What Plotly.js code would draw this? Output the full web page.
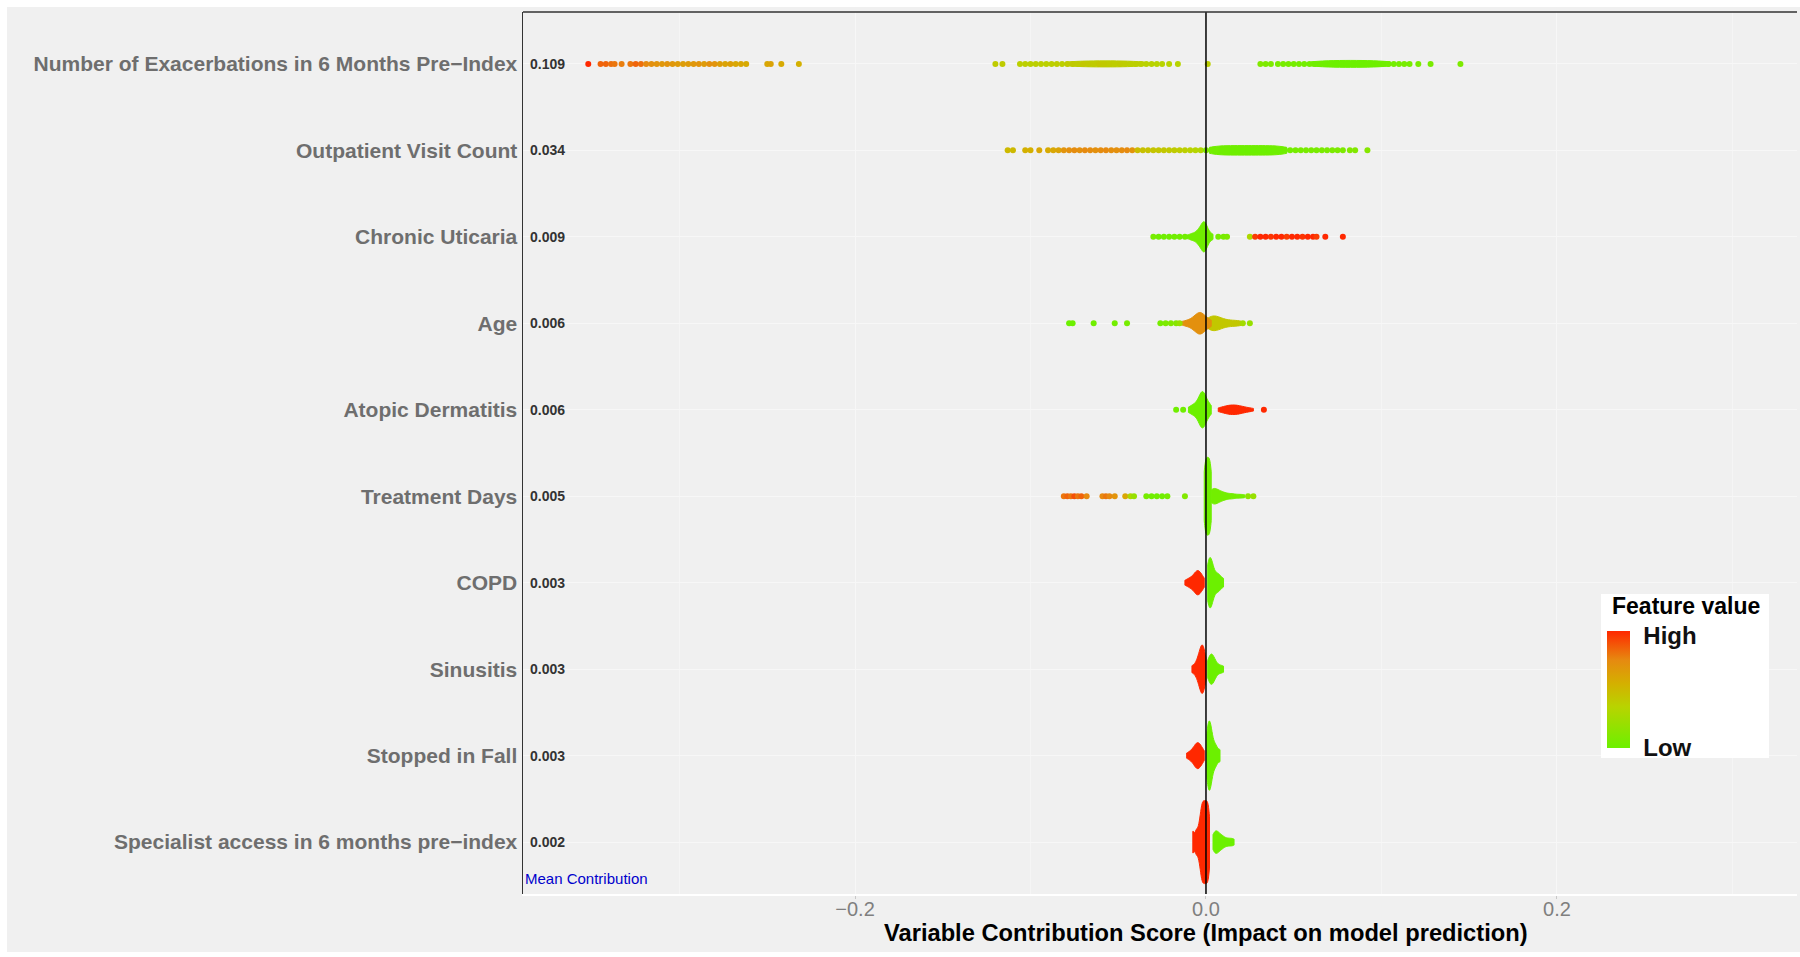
<!DOCTYPE html>
<html>
<head>
<meta charset="utf-8">
<script src="https://cdn.plot.ly/plotly-3.0.1.min.js"></script>
<style>
  body { margin: 0; background: #ffffff; }
  #shapPlot { position: absolute; left: 7px; top: 7px; width: 1793px; height: 945px; }
</style>
</head>
<body>
<div id="shapPlot"></div>
<script>
// Features, top to bottom, and their mean contribution
const features = [
  "Number of Exacerbations in 6 Months Pre\u2212Index",
  "Outpatient Visit Count",
  "Chronic Uticaria",
  "Age",
  "Atopic Dermatitis",
  "Treatment Days",
  "COPD",
  "Sinusitis",
  "Stopped in Fall",
  "Specialist access in 6 months pre\u2212index"
];
const meanContribution = [0.109, 0.034, 0.009, 0.006, 0.006, 0.005, 0.003, 0.003, 0.003, 0.002];

// Single points: [contribution, feature value (0 low .. 1 high)]
const exacDots = [
  [-0.352, 1.0],
  [-0.345, 0.85], [-0.342, 0.85], [-0.339, 0.82], [-0.337, 0.8], [-0.333, 0.78],
  [-0.328, 0.8], [-0.325, 0.85], [-0.322, 0.82], [-0.319, 0.75], [-0.316, 0.72], [-0.313, 0.7],
  [-0.310, 0.68], [-0.307, 0.7], [-0.304, 0.68], [-0.301, 0.66], [-0.298, 0.65], [-0.295, 0.66],
  [-0.292, 0.68], [-0.289, 0.7], [-0.286, 0.66], [-0.283, 0.72], [-0.280, 0.7], [-0.277, 0.65],
  [-0.274, 0.62], [-0.271, 0.64], [-0.268, 0.6], [-0.265, 0.6], [-0.262, 0.58],
  [-0.250, 0.6], [-0.248, 0.62], [-0.242, 0.58], [-0.232, 0.55],
  [-0.120, 0.4], [-0.116, 0.4],
  [-0.106, 0.37], [-0.103, 0.38], [-0.100, 0.37], [-0.097, 0.38], [-0.094, 0.38], [-0.091, 0.37],
  [-0.088, 0.38], [-0.085, 0.39], [-0.082, 0.38], [-0.079, 0.4], [-0.076, 0.41], [-0.073, 0.4],
  [-0.070, 0.42], [-0.067, 0.41], [-0.064, 0.4], [-0.061, 0.42], [-0.058, 0.41], [-0.055, 0.4],
  [-0.052, 0.39], [-0.049, 0.4], [-0.046, 0.39], [-0.043, 0.38], [-0.040, 0.38], [-0.037, 0.37],
  [-0.034, 0.36], [-0.031, 0.36], [-0.028, 0.35], [-0.025, 0.35],
  [-0.021, 0.35], [-0.016, 0.35], [0.001, 0.38],
  [0.031, 0.1], [0.034, 0.08], [0.037, 0.08],
  [0.041, 0.06], [0.044, 0.05], [0.047, 0.05], [0.050, 0.04], [0.053, 0.04], [0.056, 0.03],
  [0.059, 0.03], [0.062, 0.02], [0.065, 0.02], [0.068, 0.01], [0.071, 0.01], [0.074, 0.0],
  [0.077, 0.0], [0.080, 0.0], [0.083, 0.0], [0.086, 0.0], [0.089, 0.0], [0.092, 0.01],
  [0.095, 0.01], [0.098, 0.02], [0.101, 0.02], [0.104, 0.03], [0.107, 0.03], [0.110, 0.04],
  [0.113, 0.05], [0.116, 0.05],
  [0.121, 0.06], [0.128, 0.06], [0.145, 0.08]
];
const outpatientDots = [
  [-0.113, 0.5], [-0.110, 0.5], [-0.103, 0.55], [-0.100, 0.55], [-0.095, 0.6],
  [-0.090, 0.58], [-0.087, 0.6], [-0.084, 0.62], [-0.081, 0.7], [-0.078, 0.72], [-0.075, 0.74],
  [-0.072, 0.72], [-0.069, 0.75], [-0.066, 0.74], [-0.063, 0.72], [-0.060, 0.74], [-0.057, 0.75],
  [-0.054, 0.73], [-0.051, 0.72], [-0.048, 0.74], [-0.045, 0.75], [-0.042, 0.7],
  [-0.039, 0.48], [-0.036, 0.46], [-0.033, 0.45], [-0.030, 0.44], [-0.027, 0.43], [-0.024, 0.42],
  [-0.021, 0.41], [-0.018, 0.4], [-0.015, 0.39], [-0.012, 0.38], [-0.009, 0.36], [-0.006, 0.34],
  [-0.003, 0.32],
  [0.000, 0.1], [0.003, 0.04], [0.006, 0.03], [0.009, 0.02], [0.012, 0.02], [0.015, 0.01],
  [0.018, 0.01], [0.021, 0.0], [0.024, 0.0], [0.027, 0.0], [0.030, 0.0], [0.033, 0.0],
  [0.036, 0.0], [0.039, 0.01], [0.042, 0.01], [0.045, 0.02], [0.048, 0.03],
  [0.051, 0.05], [0.054, 0.05], [0.057, 0.06], [0.060, 0.06], [0.063, 0.06], [0.066, 0.07],
  [0.069, 0.07], [0.072, 0.08], [0.075, 0.08], [0.078, 0.08],
  [0.082, 0.1], [0.085, 0.1], [0.092, 0.12]
];
const uticariaDots = [
  [-0.030, 0.05], [-0.027, 0.02], [-0.024, 0.02], [-0.021, 0.02], [-0.018, 0.02], [-0.015, 0.02],
  [-0.012, 0.02],
  [0.007, 0.05], [0.010, 0.05], [0.012, 0.08],
  [0.025, 0.3], [0.028, 0.95], [0.031, 1.0], [0.034, 1.0], [0.037, 0.97], [0.040, 1.0],
  [0.043, 1.0], [0.046, 0.95], [0.049, 1.0], [0.052, 1.0], [0.055, 0.97], [0.058, 1.0],
  [0.061, 1.0], [0.063, 0.95], [0.068, 1.0], [0.078, 1.0]
];
const ageDots = [
  [-0.078, 0.0], [-0.076, 0.0], [-0.064, 0.02], [-0.052, 0.03], [-0.045, 0.05], [-0.026, 0.05],
  [-0.023, 0.08], [-0.020, 0.1], [-0.017, 0.12], [-0.015, 0.2], [0.021, 0.25], [0.025, 0.2]
];
const dermatitisDots = [
  [-0.017, 0.02], [-0.013, 0.02], [0.033, 1.0]
];
const treatmentDots = [
  [-0.081, 0.8], [-0.079, 0.85], [-0.077, 0.8], [-0.075, 0.9], [-0.073, 0.8], [-0.071, 0.85],
  [-0.068, 0.75], [-0.059, 0.75], [-0.057, 0.8], [-0.055, 0.75], [-0.052, 0.7], [-0.046, 0.6],
  [-0.043, 0.3], [-0.041, 0.2], [-0.034, 0.05], [-0.031, 0.02], [-0.028, 0.02], [-0.025, 0.02],
  [-0.022, 0.05], [-0.012, 0.1], [0.024, 0.15], [0.027, 0.2]
];

// Dense clusters (drawn as violins): contribution samples
const exacLowCore = [0.060, 0.065, 0.070, 0.075, 0.080, 0.085, 0.090, 0.095, 0.100, 0.105];
const exacMidCore = [-0.080, -0.075, -0.070, -0.065, -0.060, -0.055, -0.050, -0.045, -0.040, -0.035];
const outpatientLowCore = [0.002, 0.006, 0.010, 0.014, 0.018, 0.022, 0.026, 0.030, 0.034, 0.038, 0.042, 0.046];
const uticariaLow = [-0.011, -0.009, -0.008, -0.007, -0.006, -0.005, -0.005, -0.004, -0.004, -0.003,
  -0.003, -0.003, -0.002, -0.002, -0.002, -0.002, -0.001, -0.001, -0.001, -0.001, -0.001,
  0.000, 0.000, 0.000, 0.000, 0.001, 0.001, 0.002, 0.003, 0.004];
const ageMid = [0.001, 0.002, 0.003, 0.004, 0.005, 0.006, 0.007, 0.009, 0.011, 0.014, 0.017, 0.020];
const ageHigh = [-0.014, -0.012, -0.010, -0.009, -0.008, -0.007, -0.006, -0.006, -0.005, -0.005,
  -0.004, -0.004, -0.004, -0.003, -0.003, -0.003, -0.002, -0.002, -0.001, -0.001, 0.000, 0.001,
  0.002, 0.003];
const dermatitisLow = [-0.010, -0.008, -0.007, -0.006, -0.005, -0.004, -0.004, -0.003, -0.003, -0.003,
  -0.002, -0.002, -0.002, -0.002, -0.001, -0.001, -0.001, 0.000, 0.000, 0.001, 0.002, 0.003];
const dermatitisHigh = [0.007, 0.009, 0.011, 0.012, 0.013, 0.014, 0.015, 0.016, 0.017, 0.018, 0.019,
  0.020, 0.022, 0.024, 0.027];
const treatmentZero = [-0.001, -0.0005, 0.0, 0.0005, 0.001, 0.0015, 0.002, 0.0025, 0.003];
const treatmentLow = [0.003, 0.003, 0.004, 0.004, 0.005, 0.005, 0.006, 0.007, 0.008, 0.009, 0.010,
  0.012, 0.014, 0.016, 0.019, 0.022];
const copdHigh = [-0.012, -0.010, -0.009, -0.008, -0.007, -0.006, -0.006, -0.005, -0.005, -0.005,
  -0.004, -0.004, -0.003, -0.003, -0.002, -0.001];
const copdLow = [0.001, 0.001, 0.0015, 0.002, 0.002, 0.0025, 0.003, 0.003, 0.0035, 0.004, 0.005,
  0.006, 0.007, 0.008, 0.010];
const sinusitisHigh = [-0.008, -0.006, -0.005, -0.004, -0.004, -0.003, -0.003, -0.003, -0.002, -0.002,
  -0.002, -0.002, -0.001, -0.001, -0.001, 0.000];
const sinusitisLow = [0.001, 0.002, 0.002, 0.003, 0.003, 0.003, 0.004, 0.004, 0.005, 0.006, 0.008, 0.010];
const fallHigh = [-0.011, -0.009, -0.008, -0.007, -0.006, -0.006, -0.005, -0.005, -0.005, -0.004,
  -0.004, -0.003, -0.003, -0.002, -0.001];
const fallLow = [0.0005, 0.001, 0.001, 0.0015, 0.002, 0.002, 0.0025, 0.003, 0.003, 0.004, 0.005,
  0.006, 0.008];
const specialistHigh = [-0.0075, -0.0055, -0.004, -0.003, -0.0025, -0.002, -0.0015, -0.001, -0.0005,
  0.0, 0.0005, 0.001, 0.0015, 0.002];
const specialistLow = [0.004, 0.005, 0.005, 0.006, 0.006, 0.007, 0.008, 0.009, 0.010, 0.012, 0.014, 0.016];

// Colour scale low (green) -> high (red)
const featureScale = [[0, '#6cf000'], [0.35, '#b8d400'], [0.55, '#d4b000'], [0.75, '#e68a10'], [1, '#ff2800']];

function hexRgb(h) {
  return [1, 3, 5].map(i => parseInt(h.substr(i, 2), 16));
}

function colorAt(v) {
  for (let i = 1; i < featureScale.length; i++) {
    if (v <= featureScale[i][0]) {
      let a = featureScale[i - 1], b = featureScale[i];
      let t = (v - a[0]) / (b[0] - a[0]);
      let ca = hexRgb(a[1]), cb = hexRgb(b[1]);
      return 'rgb(' + ca.map((c, k) => Math.round(c + (cb[k] - c) * t)).join(',') + ')';
    }
  }
  return featureScale[featureScale.length - 1][1];
}

function rowOf(i) {
  return features.length - i;
}

function blob(featureIdx, samples, v, width, bw) {
  let col = colorAt(v);
  return {
    type: 'violin',
    orientation: 'h',
    x: samples,
    y0: rowOf(featureIdx),
    width: width,
    bandwidth: bw,
    spanmode: 'hard',
    side: 'both',
    points: false,
    box: { visible: false },
    meanline: { visible: false },
    fillcolor: col,
    line: { color: col, width: 1 },
    opacity: 1,
    hoverinfo: 'skip',
    showlegend: false
  };
}

var traces = [
  blob(0, exacLowCore, 0.0, 0.08, 0.01),
  blob(0, exacMidCore, 0.38, 0.07, 0.01),
  blob(1, outpatientLowCore, 0.02, 0.11, 0.006),
  blob(2, uticariaLow, 0.02, 0.35, 0.0012),
  blob(3, ageMid, 0.42, 0.17, 0.003),
  blob(3, ageHigh, 0.72, 0.25, 0.002),
  blob(4, dermatitisLow, 0.0, 0.42, 0.0015),
  blob(4, dermatitisHigh, 1.0, 0.11, 0.003),
  blob(5, treatmentZero, 0.02, 0.9, 0.0008),
  blob(5, treatmentLow, 0.03, 0.18, 0.002),
  blob(6, copdHigh, 1.0, 0.28, 0.0015),
  blob(6, copdLow, 0.0, 0.58, 0.0012),
  blob(7, sinusitisHigh, 1.0, 0.56, 0.0012),
  blob(7, sinusitisLow, 0.0, 0.35, 0.0015),
  blob(8, fallHigh, 1.0, 0.3, 0.0015),
  blob(8, fallLow, 0.0, 0.8, 0.001),
  blob(9, specialistHigh, 1.0, 0.96, 0.0008),
  blob(9, specialistLow, 0.0, 0.26, 0.0015)
];

// All single points in one scatter trace, coloured by feature value
var dotSets = [[0, exacDots], [1, outpatientDots], [2, uticariaDots], [3, ageDots],
  [4, dermatitisDots], [5, treatmentDots]];
var dx = [], dy = [], dc = [];
dotSets.forEach(function(set) {
  set[1].forEach(function(p) {
    dx.push(p[0]);
    dy.push(rowOf(set[0]));
    dc.push(p[1]);
  });
});

traces.push({
  type: 'scatter',
  mode: 'markers',
  x: dx,
  y: dy,
  hoverinfo: 'skip',
  showlegend: false,
  marker: {
    size: 6,
    color: dc,
    colorscale: featureScale,
    cmin: 0,
    cmax: 1,
    line: { width: 0 },
    showscale: true,
    colorbar: {
      tickvals: [0, 0.965],
      ticktext: ['Low', 'High'],
      tickfont: { size: 24, color: '#111', weight: 'bold' },
      ticks: 'outside',
      ticklen: 9,
      tickcolor: 'rgba(0,0,0,0)',
      thickness: 23,
      len: 117,
      lenmode: 'pixels',
      x: 0.8509,
      xanchor: 'left',
      y: 0.1655,
      yanchor: 'bottom',
      bgcolor: 'rgba(0,0,0,0)',
      outlinewidth: 0,
      borderwidth: 0,
      xpad: 0,
      ypad: 0
    }
  }
});

var annotations = meanContribution.map(function(m, i) {
  return {
    text: m.toFixed(3),
    xref: 'paper', x: 0, xanchor: 'left', xshift: 5,
    yref: 'y', y: rowOf(i),
    showarrow: false,
    font: { size: 14, color: '#333', weight: 'bold' }
  };
});
annotations.push({
  text: 'Mean Contribution',
  xref: 'paper', x: 0, xanchor: 'left', xshift: 0,
  yref: 'y', y: 0.585,
  showarrow: false,
  font: { size: 15, color: '#0000cc' }
});
annotations.push({
  text: 'Variable Contribution Score (Impact on model prediction)',
  xref: 'x', x: 0,
  yref: 'paper', y: 0, yanchor: 'middle', yshift: -39,
  showarrow: false,
  font: { size: 23.7, color: '#000', weight: 'bold' }
});
annotations.push({
  text: 'Feature value',
  xref: 'paper', x: 0.9129, xanchor: 'center',
  yref: 'paper', y: 0.3265, yanchor: 'middle',
  showarrow: false,
  font: { size: 23, color: '#000', weight: 'bold' }
});

var layout = {
  width: 1793,
  height: 945,
  margin: { l: 516, r: 3, t: 5, b: 58 },
  paper_bgcolor: '#f0f0f0',
  plot_bgcolor: '#f0f0f0',
  font: { family: 'Liberation Sans, Arial, sans-serif' },
  violinmode: 'overlay',
  violingap: 0,
  hovermode: false,
  xaxis: {
    range: [-0.3892, 0.3368],
    tickvals: [-0.2, 0, 0.2],
    ticktext: ['\u22120.2', '0.0', '0.2'],
    tickfont: { size: 20, color: '#7f7f7f' },
    ticks: 'outside',
    ticklen: 3,
    tickcolor: '#c8c8c8',
    ticklabelstandoff: -7,
    showgrid: true,
    gridcolor: '#f7f7f7',
    minor: { tickvals: [-0.3, -0.1, 0.1, 0.3], showgrid: true, gridcolor: '#f5f5f5' },
    zeroline: false,
    showline: true,
    linecolor: '#ffffff',
    linewidth: 2
  },
  yaxis: {
    type: 'linear',
    range: [0.4, 10.6],
    tickvals: features.map((f, i) => rowOf(i)),
    ticktext: features,
    tickfont: { size: 21, color: '#6e6e6e', weight: 'bold' },
    ticks: '',
    showgrid: true,
    gridcolor: '#f7f7f7',
    zeroline: false,
    showline: true,
    linecolor: '#333',
    linewidth: 1.5
  },
  shapes: [
    { type: 'line', xref: 'x', x0: 0, x1: 0, yref: 'paper', y0: 0, y1: 1,
      line: { color: '#000', width: 1.5 }, layer: 'above' },
    { type: 'line', xref: 'paper', x0: 0, x1: 1, yref: 'paper', y0: 1, y1: 1,
      line: { color: '#333', width: 1.5 }, layer: 'above' },
    // white legend box
    { type: 'rect', xref: 'paper', x0: 0.8462, x1: 0.9780, yref: 'paper', y0: 0.1542, y1: 0.3401,
      fillcolor: '#ffffff', line: { width: 0 }, layer: 'above' }
  ],
  annotations: annotations
};

Plotly.newPlot('shapPlot', traces, layout, { displayModeBar: false, staticPlot: true });
</script>
</body>
</html>
